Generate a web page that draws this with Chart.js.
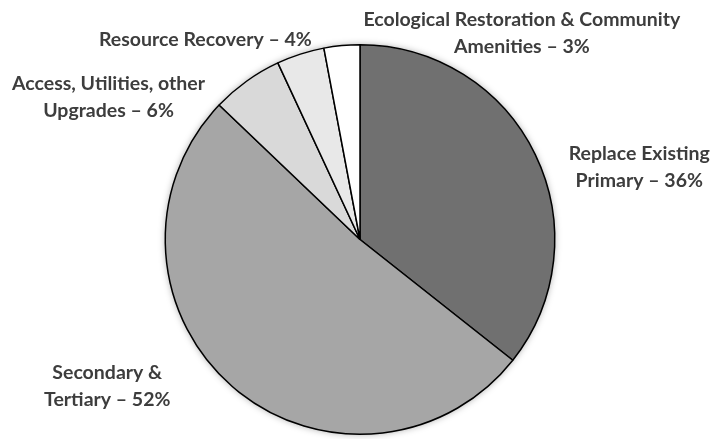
<!DOCTYPE html>
<html>
<head>
<meta charset="utf-8">
<script src="https://cdn.jsdelivr.net/npm/chart.js@4"></script>
<style>
  html, body { margin: 0; padding: 0; background: #fff; }
  #wrap { width: 717px; height: 439px; }
</style>
</head>
<body>
<div id="wrap"><canvas id="pieChart"></canvas></div>
<script>
const categories = ['Replace Existing Primary', 'Secondary & Tertiary', 'Access, Utilities, other Upgrades', 'Resource Recovery', 'Ecological Restoration & Community Amenities'];
const shares = [36, 52, 6, 4, 3];
// how each label is written (lines) and where it sits relative to its slice edge
const labelLines = [
    ['Replace Existing', 'Primary \u2013 36%'],
    ['Secondary &', 'Tertiary \u2013 52%'],
    ['Access, Utilities, other', 'Upgrades \u2013 6%'],
    ['Resource Recovery \u2013 4%'],
    ['Ecological Restoration & Community', 'Amenities \u2013 3%']
];
const labelOffsets = [[104, 13], [-125, 0], [-138, 16], [-95, -14], [180, -12]];
const sliceColors = ['#707070', '#a6a6a6', '#d9d9d9', '#e8e8e8', '#ffffff'];

const pieShadow = {
    id: 'pieShadow',
    beforeDatasetsDraw(chart) {
        const arc = chart.getDatasetMeta(0).data[0];
        if (!arc) return;
        const ctx = chart.ctx;
        ctx.save();
        ctx.shadowColor = 'rgba(0,0,0,0.35)';
        ctx.shadowBlur = 7;
        ctx.fillStyle = '#ffffff';
        ctx.beginPath();
        ctx.arc(arc.x, arc.y, arc.outerRadius, 0, Math.PI * 2);
        ctx.fill();
        ctx.restore();
    }
};

const sliceLabels = {
    id: 'sliceLabels',
    afterDatasetsDraw(chart) {
        const ctx = chart.ctx;
        ctx.save();
        ctx.font = 'bold 19.5px Lato';
        ctx.fillStyle = '#3d3d3d';
        ctx.textAlign = 'center';
        ctx.textBaseline = 'middle';
        chart.getDatasetMeta(0).data.forEach((arc, i) => {
            const mid = (arc.startAngle + arc.endAngle) / 2;
            const px = arc.x + Math.cos(mid) * arc.outerRadius + labelOffsets[i][0];
            const py = arc.y + Math.sin(mid) * arc.outerRadius + labelOffsets[i][1];
            const lines = labelLines[i];
            const lh = 27;
            lines.forEach((t, j) => {
                ctx.fillText(t, px, py + (j - (lines.length - 1) / 2) * lh);
            });
        });
        ctx.restore();
    }
};

new Chart(document.getElementById('pieChart'), {
    type: 'pie',
    data: {
        labels: categories,
        datasets: [{
            data: shares,
            backgroundColor: sliceColors,
            borderColor: '#000000',
            borderWidth: 1.5
        }]
    },
    options: {
        responsive: true,
        maintainAspectRatio: false,
        animation: false,
        layout: { padding: { top: 44, bottom: 4, left: 3, right: 0 } },
        plugins: {
            legend: { display: false },
            tooltip: { enabled: false }
        }
    },
    plugins: [pieShadow, sliceLabels]
});
</script>
</body>
</html>
